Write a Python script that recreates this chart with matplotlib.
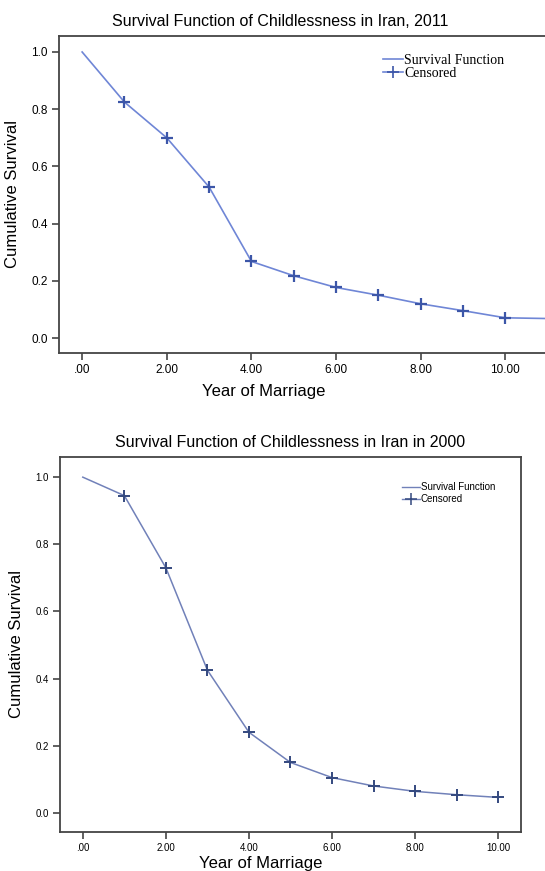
import matplotlib.pyplot as plt
from matplotlib.lines import Line2D

# Survival data (Kaplan-Meier style step points)
years = [0, 1, 2, 3, 4, 5, 6, 7, 8, 9, 10]
surv_2011 = [1.0, 0.825, 0.70, 0.528, 0.268, 0.218, 0.177, 0.150, 0.120, 0.096, 0.071]
surv_2000 = [1.0, 0.945, 0.73, 0.425, 0.240, 0.150, 0.105, 0.080, 0.064, 0.054, 0.046]
xticks = [0, 2, 4, 6, 8, 10]
xtick_labels = ['.00', '2.00', '4.00', '6.00', '8.00', '10.00']
yticks = [0.0, 0.2, 0.4, 0.6, 0.8, 1.0]

sans = 'Liberation Sans'
fig = plt.figure(figsize=(5.45, 8.71), dpi=100)


def style_axes(ax, xlim, ylim, tick_size, xlabel_x, xlabel_pad):
    ax.set_xlim(*xlim)
    ax.set_ylim(*ylim)
    ax.set_xticks(xticks)
    ax.set_xticklabels(xtick_labels, fontfamily=sans, fontsize=tick_size)
    ax.set_yticks(yticks)
    ax.set_yticklabels([f'{v:.1f}' for v in yticks], fontfamily=sans, fontsize=tick_size)
    for s in ax.spines.values():
        s.set_color('#444444')
        s.set_linewidth(1.3)
    ax.tick_params(direction='out', length=5, width=1.2, color='#444444', pad=3)
    ax.set_xlabel('Year of Marriage', fontfamily=sans, fontsize=12, labelpad=xlabel_pad,
                  x=xlabel_x)
    ax.set_ylabel('Cumulative Survival', fontfamily=sans, fontsize=12, labelpad=8)


# ---- Top chart: 2011 ----
ax1 = fig.add_axes([0.108, 0.5947, 0.897, 0.364])
line_c1 = '#6f86d6'
mark_c1 = '#3c56a8'
ax1.plot(years + [11.2], surv_2011 + [surv_2011[-1] - 0.003], color=line_c1, lw=1.2)
ax1.plot(years[1:], surv_2011[1:], linestyle='none', marker='+', color=mark_c1,
         markersize=8, markeredgewidth=1.6)
style_axes(ax1, (-0.55, 11.0), (-0.052, 1.056), 8.5, 0.42, 6)
ax1.set_title('Survival Function of Childlessness in Iran, 2011', fontfamily=sans,
              fontsize=11.5, pad=7, x=0.453)
h1 = [Line2D([], [], color=line_c1, lw=1.2),
      Line2D([], [], color=line_c1, lw=1.2, marker='+', markersize=9,
             markeredgecolor=mark_c1, markeredgewidth=1.2)]
ax1.legend(h1, ['Survival Function', 'Censored'], loc='upper left',
           bbox_to_anchor=(0.638, 0.984), frameon=False, handlelength=1.4,
           handletextpad=0.1, labelspacing=0.05,
           prop={'family': 'Liberation Serif', 'size': 10})

# ---- Bottom chart: 2000 ----
ax2 = fig.add_axes([0.110, 0.0448, 0.846, 0.4305])
line_c2 = '#7181b9'
mark_c2 = '#34497f'
ax2.plot(years, surv_2000, color=line_c2, lw=1.1)
ax2.plot(years[1:], surv_2000[1:], linestyle='none', marker='+', color=mark_c2,
         markersize=8, markeredgewidth=1.4)
style_axes(ax2, (-0.55, 10.55), (-0.057, 1.06), 7, 0.436, 2)
ax2.set_title('Survival Function of Childlessness in Iran in 2000', fontfamily=sans,
              fontsize=11.5, pad=7)
h2 = [Line2D([], [], color=line_c2, lw=1.0),
      Line2D([], [], color=line_c2, lw=1.0, marker='+', markersize=8,
             markeredgecolor=mark_c2, markeredgewidth=1.1)]
ax2.legend(h2, ['Survival Function', 'Censored'], loc='upper left',
           bbox_to_anchor=(0.723, 0.956), frameon=False, handlelength=1.8,
           handletextpad=0.1, labelspacing=0.2,
           prop={'family': sans, 'size': 7})

fig.savefig('out.png', dpi=100)
